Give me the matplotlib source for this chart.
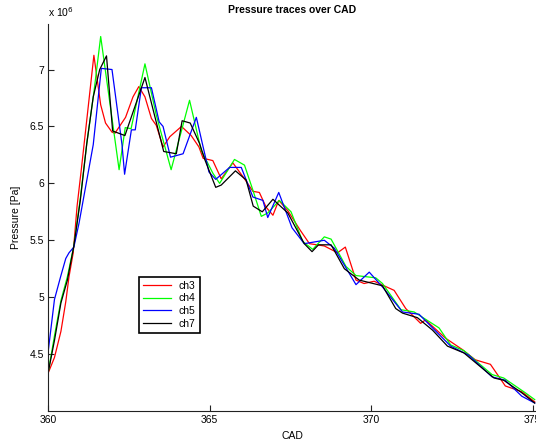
import numpy as np
import matplotlib
matplotlib.use("Agg")
from matplotlib import pyplot as plt

# pressure traces, CAD vs pressure (x 10^6 Pa), vertices
ch3_cad = [360.0, 360.2, 360.4, 360.55, 360.65, 360.78, 360.9, 361.03, 361.42,
           361.63, 361.78, 361.98, 362.07, 362.4, 362.63, 362.81, 363.0, 363.2,
           363.35, 363.56, 363.77, 364.13, 364.43, 364.67, 364.8, 365.1, 365.36,
           365.72, 366.08, 366.34, 366.54, 366.75, 366.96, 367.14, 367.42, 367.8,
           368.09, 368.55, 368.96, 369.2, 369.53, 369.78, 370.09, 370.71, 371.07,
           371.53, 371.68, 372.3, 372.82, 373.22, 373.69, 374.15, 374.66, 375.06]
ch3_p = [4.33, 4.47, 4.70, 4.96, 5.18, 5.39, 5.80, 6.12, 7.125,
         6.69, 6.53, 6.45, 6.44, 6.58, 6.76, 6.85, 6.76, 6.57,
         6.51, 6.32, 6.41, 6.50, 6.42, 6.32, 6.22, 6.20, 6.04,
         6.18, 6.04, 5.93, 5.92, 5.79, 5.72, 5.85, 5.76, 5.59,
         5.47, 5.45, 5.39, 5.44, 5.15, 5.12, 5.14, 5.06, 4.90,
         4.77, 4.80, 4.64, 4.54, 4.45, 4.41, 4.22, 4.17, 4.08]

ch4_cad = [360.0, 360.2, 360.4, 360.6, 360.8, 361.0, 361.2, 361.42, 361.63,
           362.2, 362.39, 362.57, 363.0, 363.35, 363.81, 364.38, 364.74, 365.1,
           365.31, 365.77, 366.08, 366.34, 366.6, 366.8, 367.16, 367.52, 367.88,
           368.19, 368.55, 368.76, 369.22, 369.53, 370.14, 370.35, 370.92, 371.33,
           372.1, 372.46, 372.87, 373.74, 374.1, 374.77, 375.06]
ch4_p = [4.33, 4.66, 4.97, 5.18, 5.45, 5.87, 6.35, 6.80, 7.29,
         6.12, 6.49, 6.48, 7.05, 6.60, 6.12, 6.73, 6.29, 6.09,
         6.00, 6.21, 6.16, 5.94, 5.71, 5.74, 5.85, 5.75, 5.49,
         5.42, 5.53, 5.51, 5.27, 5.19, 5.17, 5.12, 4.89, 4.87,
         4.73, 4.58, 4.53, 4.32, 4.29, 4.16, 4.10]

ch5_cad = [360.0, 360.2, 360.39, 360.55, 360.65, 360.8, 360.96, 361.4, 361.65,
           361.98, 362.29, 362.37, 362.58, 362.7, 362.89, 363.2, 363.44, 363.56,
           363.79, 364.18, 364.59, 364.8, 364.98, 365.19, 365.62, 365.98, 366.34,
           366.65, 366.8, 367.14, 367.55, 367.93, 368.55, 368.86, 369.53, 369.94,
           370.35, 370.97, 371.48, 371.9, 372.46, 373.02, 373.74, 374.15, 374.66,
           375.06]
ch5_p = [4.51, 4.98, 5.18, 5.34, 5.39, 5.44, 5.65, 6.34, 7.01,
         7.00, 6.34, 6.08, 6.47, 6.47, 6.84, 6.84, 6.54, 6.50,
         6.23, 6.26, 6.58, 6.32, 6.10, 6.035, 6.14, 6.14, 5.88,
         5.85, 5.70, 5.92, 5.61, 5.47, 5.50, 5.43, 5.11, 5.22,
         5.09, 4.87, 4.85, 4.73, 4.57, 4.49, 4.30, 4.27, 4.13,
         4.07]

ch7_cad = [360.0, 360.2, 360.4, 360.6, 360.8, 361.0, 361.2, 361.4, 361.6,
           361.81, 362.0, 362.38, 363.0, 363.58, 363.97, 364.15, 364.4, 364.69,
           364.85, 365.19, 365.36, 365.8, 366.13, 366.35, 366.63, 366.96, 367.42,
           367.93, 368.17, 368.37, 368.76, 369.17, 369.63, 370.35, 370.76, 370.97,
           371.43, 371.9, 372.36, 372.87, 373.8, 374.1, 374.66, 375.06]
ch7_p = [4.33, 4.62, 4.95, 5.15, 5.45, 5.85, 6.35, 6.76, 7.00,
         7.12, 6.46, 6.42, 6.93, 6.28, 6.26, 6.55, 6.53, 6.35,
         6.21, 5.965, 5.985, 6.11, 6.03, 5.80, 5.75, 5.86, 5.74,
         5.47, 5.40, 5.46, 5.46, 5.25, 5.15, 5.10, 4.90, 4.86,
         4.82, 4.71, 4.57, 4.51, 4.29, 4.27, 4.16, 4.07]

series = [("ch3", ch3_cad, ch3_p, "#ff0000"),
          ("ch4", ch4_cad, ch4_p, "#00ff00"),
          ("ch5", ch5_cad, ch5_p, "#0000ff"),
          ("ch7", ch7_cad, ch7_p, "#000000")]

x_ticks = [360, 365, 370, 375]
y_ticks = [4.5, 5, 5.5, 6, 6.5, 7]

plt.rcParams['font.family'] = ['Liberation Sans', 'DejaVu Sans']
plt.rcParams['font.size'] = 7.5

fig = plt.figure(figsize=(5.36, 4.41), dpi=100)
ax = fig.add_axes([48 / 536, 30 / 441, 488 / 536, 387 / 441])

for name, cad, p, col in series:
    ax.plot(cad, p, color=col, lw=0.9, label=name)

ax.set_xlim(360, 375.1)
ax.set_ylim(4.0, 7.4)
ax.set_xticks(x_ticks)
ax.set_xticklabels([str(t) for t in x_ticks])
ax.set_yticks(y_ticks)
ax.set_yticklabels([f"{t:g}" for t in y_ticks])
ax.tick_params(direction='in', length=4, width=0.8, pad=3, colors='#222222',
               labelcolor='black')

for side in ['top', 'right']:
    ax.spines[side].set_visible(False)
for side in ['left', 'bottom']:
    ax.spines[side].set_linewidth(0.8)
    ax.spines[side].set_color('#222222')

ax.set_title("Pressure traces over CAD", fontweight='bold', fontsize=7.5, pad=8)
ax.set_xlabel("CAD", labelpad=4)
ax.set_ylabel("Pressure [Pa]", labelpad=6)
ax.text(0.0, 1.012, r"x 10$^6$", transform=ax.transAxes, ha='left', va='bottom')

leg = ax.legend(loc='upper left', bbox_to_anchor=(0.187, 0.347), borderaxespad=0,
                fancybox=False, framealpha=1, handlelength=2.6, handletextpad=0.8,
                labelspacing=0.25, borderpad=0.4, fontsize=7.5)
leg.get_frame().set_edgecolor('black')
leg.get_frame().set_linewidth(1.2)

fig.savefig("out.png", dpi=100)
